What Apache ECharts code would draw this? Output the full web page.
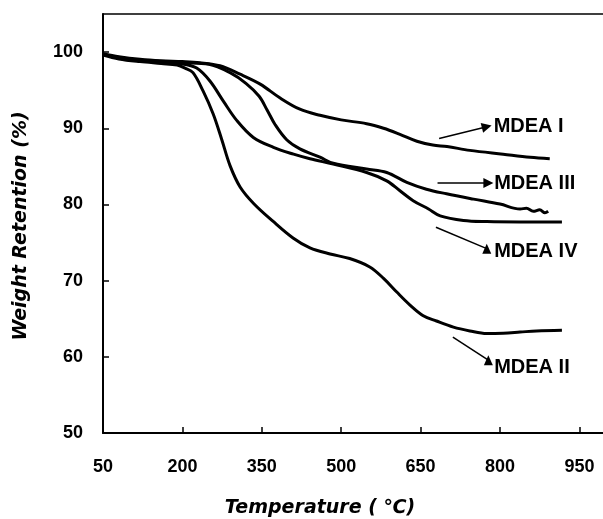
<!DOCTYPE html>
<html>
<head>
<meta charset="utf-8">
<script src="https://cdn.jsdelivr.net/npm/echarts@6/dist/echarts.min.js"></script>
<style>
html,body{margin:0;padding:0;background:#fff;}
#chart{width:603px;height:519px;}
</style>
</head>
<body>
<div id="chart"></div>
<script>
// Data (temperature in °C, weight retention in %)
const xTicks = [50, 200, 350, 500, 650, 800, 950];
const yTicks = [50, 60, 70, 80, 90, 100];

const mdeaI = [[50,99.8],[80,99.4],[120,99.05],[160,98.85],[200,98.75],[233,98.6],[271,98.2],[309,97.1],[347,95.8],[384,94.0],[422,92.5],[460,91.7],[500,91.1],[548,90.6],[580,90.0],[611,89.2],[643,88.3],[673,87.8],[700,87.6],[743,87.1],[806,86.6],[857,86.2],[894,86.0]];
const mdeaII = [[50,99.6],[80,99.1],[120,98.75],[160,98.5],[190,98.3],[205,97.9],[220,97.3],[239,94.9],[258,91.9],[274,88.6],[290,85.1],[309,82.3],[335,80.1],[371,77.8],[409,75.6],[441,74.3],[479,73.5],[516,72.9],[554,71.8],[580,70.3],[605,68.5],[630,66.8],[655,65.4],[680,64.7],[712,63.9],[743,63.4],[775,63.05],[806,63.1],[838,63.25],[869,63.4],[917,63.5]];
const mdeaIII = [[50,99.7],[80,99.3],[120,98.95],[160,98.75],[200,98.6],[250,98.4],[290,97.3],[320,95.9],[345,94.2],[360,92.4],[375,90.5],[397,88.5],[422,87.3],[460,86.2],[485,85.4],[548,84.65],[586,84.2],[624,82.9],[661,82.0],[699,81.4],[750,80.7],[800,80.05],[838,79.4],[850,79.5],[863,79.1],[875,79.3],[885,78.9],[891,79.1]];
const mdeaIV = [[50,99.7],[80,99.2],[120,98.85],[160,98.6],[200,98.45],[227,97.9],[252,96.2],[277,93.6],[303,91.0],[334,88.8],[372,87.5],[410,86.6],[441,86.0],[485,85.3],[548,84.2],[586,83.1],[611,81.8],[636,80.5],[665,79.4],[687,78.5],[731,77.9],[775,77.75],[838,77.7],[917,77.7]];

// Annotation arrows (data coordinates): start, end, label anchor
const seriesNames = ['MDEA I', 'MDEA II', 'MDEA III', 'MDEA IV'];
const arrowStart = [[685,88.65],[711,62.6],[682,82.8],[679,77.0]];
const arrowEnd = [[775,90.2],[778,59.55],[778,82.8],[775,74.2]];
const labelAt = [[788,90.2],[789,58.6],[789,82.8],[789,73.8]];
const arrowRotated = [true, false, true, false];

const curves = [mdeaI, mdeaII, mdeaIII, mdeaIV];

const chart = echarts.init(document.getElementById('chart'), null, {renderer:'canvas'});

const series = curves.map((d, i) => {
  const markPointData = [{
    coord: labelAt[i], symbol: 'circle', symbolSize: 0,
    label: {show: true, position: 'right', distance: 0, formatter: seriesNames[i],
      color: '#000', fontFamily: 'Liberation Sans', fontWeight: 'bold', fontSize: 20}
  }];
  if (!arrowRotated[i]) {
    markPointData.push({coord: arrowEnd[i], symbol: 'triangle', symbolSize: [9, 10],
      itemStyle: {color: '#000'}, label: {show: false}});
  }
  return {
    type: 'line', name: seriesNames[i], data: d, smooth: 0.35,
    showSymbol: false, symbol: 'none',
    lineStyle: {color: '#000', width: 3},
    z: 3,
    markLine: {
      silent: true, animation: false,
      symbol: arrowRotated[i] ? ['none', 'triangle'] : ['none', 'none'],
      symbolSize: [10, 10],
      lineStyle: {color: '#000', width: 1.5, type: 'solid'},
      label: {show: false},
      data: [[{coord: arrowStart[i]}, {coord: arrowEnd[i]}]]
    },
    markPoint: {silent: true, animation: false, data: markPointData}
  };
});

chart.setOption({
  animation: false,
  backgroundColor: '#fff',
  grid: {left: 103, top: 14, right: 0, bottom: 86},
  xAxis: [{
    type: 'value', min: 50, max: 994.6,
    axisLine: {show: true, lineStyle: {color: '#000', width: 2}},
    axisTick: {show: true, inside: true, length: 6, customValues: xTicks, lineStyle: {color: '#000', width: 1.5}},
    axisLabel: {customValues: xTicks, margin: 25, color: '#000', fontFamily: 'Liberation Sans', fontWeight: 'bold', fontSize: 18},
    splitLine: {show: false}
  }, {
    type: 'value', min: 50, max: 994.6, position: 'top',
    axisLine: {show: true, lineStyle: {color: '#000', width: 1.5}},
    axisTick: {show: false}, axisLabel: {show: false}, splitLine: {show: false}
  }],
  yAxis: {
    type: 'value', min: 50, max: 105,
    axisLine: {show: true, lineStyle: {color: '#000', width: 2}},
    axisTick: {show: true, inside: true, length: 6, customValues: yTicks, lineStyle: {color: '#000', width: 1.5}},
    axisLabel: {customValues: yTicks, margin: 20, color: '#000', fontFamily: 'Liberation Sans', fontWeight: 'bold', fontSize: 18},
    splitLine: {show: false}
  },
  graphic: [
    {type: 'text', x: 320, y: 508, style: {text: 'Temperature ( \u2103)', align: 'center', verticalAlign: 'middle',
      font: 'italic bold 19px "DejaVu Sans"', fill: '#000'}},
    {type: 'text', x: 21, y: 226, rotation: Math.PI / 2, style: {text: 'Weight Retention (%)', align: 'center', verticalAlign: 'middle',
      font: 'italic bold 19px "DejaVu Sans"', fill: '#000'}}
  ],
  series: series
});
</script>
</body>
</html>
